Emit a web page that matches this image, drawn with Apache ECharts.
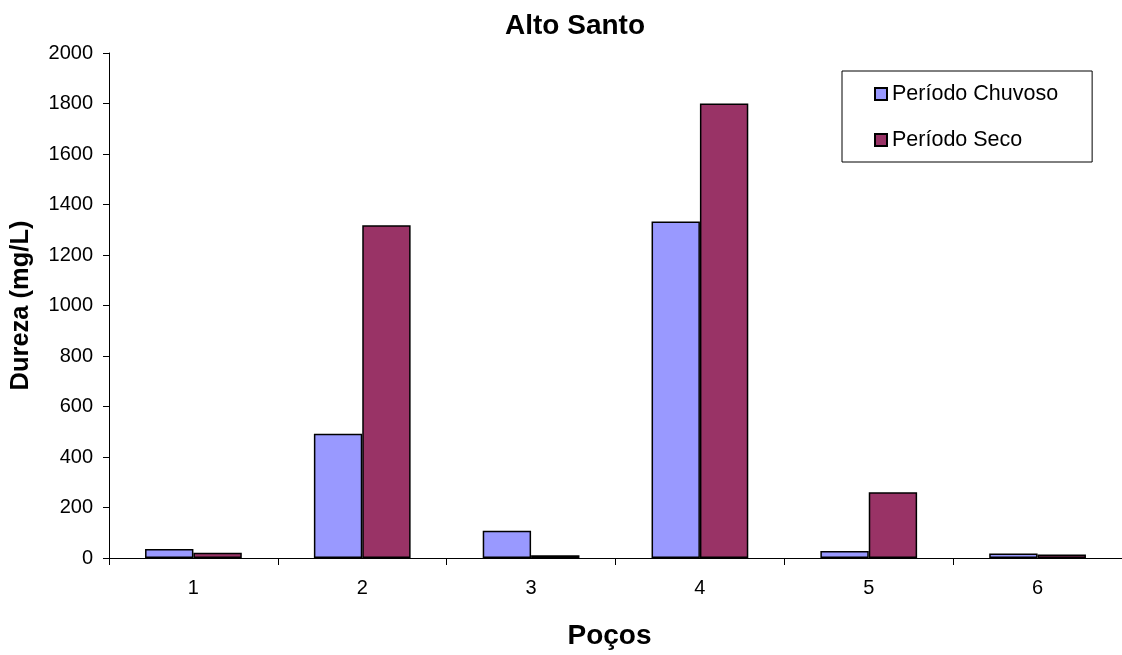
<!DOCTYPE html>
<html>
<head>
<meta charset="utf-8">
<script src="https://cdn.jsdelivr.net/npm/echarts@6/dist/echarts.min.js"></script>
<style>
html,body{margin:0;padding:0;background:#fff;}
#c{width:1122px;height:655px;}
</style>
</head>
<body>
<div id="c"></div>
<script>
const categories = ['1', '2', '3', '4', '5', '6'];
const chuvoso = [36, 492, 108, 1333, 28, 18];
const seco = [21, 1318, 11, 1800, 260, 14];
const yTicks = { min: 0, max: 2000, interval: 200 };

const FONT = '"Liberation Sans", Arial, sans-serif';
const chart = echarts.init(document.getElementById('c'), null, { renderer: 'canvas' });
chart.setOption({
  backgroundColor: '#ffffff',
  animation: false,
  textStyle: { fontFamily: FONT, color: '#000' },
  title: {
    text: 'Alto Santo',
    left: 505,
    top: 12,
    padding: 0,
    textStyle: { fontFamily: FONT, fontWeight: 'bold', fontSize: 28, color: '#000' }
  },
  legend: {
    orient: 'vertical',
    left: 842,
    top: 71,
    padding: [11, 34, 10, 32],
    itemWidth: 12,
    itemHeight: 12,
    itemGap: 22,
    icon: 'rect',
    borderColor: '#000',
    borderWidth: 1,
    textStyle: { fontFamily: FONT, fontSize: 21.5, color: '#000', lineHeight: 24 },
    data: ['Período Chuvoso', 'Período Seco']
  },
  grid: { left: 106, top: 53, width: 1020, height: 521, containLabel: false },
  xAxis: {
    type: 'category',
    data: categories,
    name: 'Poços',
    nameLocation: 'middle',
    nameGap: 64,
    nameTextStyle: { fontFamily: FONT, fontWeight: 'bold', fontSize: 28, color: '#000', padding: [0, 12, 0, 0] },
    axisLine: { lineStyle: { color: '#000', width: 1 } },
    axisTick: { show: true, length: 7, lineStyle: { color: '#000' } },
    axisLabel: { fontFamily: FONT, fontSize: 20, color: '#000', margin: 20 },
    splitLine: { show: false }
  },
  yAxis: {
    type: 'value',
    min: yTicks.min,
    max: yTicks.max,
    interval: yTicks.interval,
    name: 'Dureza (mg/L)',
    nameLocation: 'middle',
    nameGap: 75,
    nameTextStyle: { fontFamily: FONT, fontWeight: 'bold', fontSize: 25.5, color: '#000' },
    axisLine: { show: true, lineStyle: { color: '#000', width: 1 } },
    axisTick: { show: true, length: 6, lineStyle: { color: '#000' } },
    axisLabel: { fontFamily: FONT, fontSize: 20, color: '#000', margin: 16, formatter: function (v) { return String(v); } },
    splitLine: { show: false }
  },
  series: [
    {
      name: 'Período Chuvoso',
      type: 'bar',
      data: chuvoso,
      barGap: '0%',
      barCategoryGap: '42.7%',
      itemStyle: { color: '#9999FF', borderColor: '#000', borderWidth: 1.5 }
    },
    {
      name: 'Período Seco',
      type: 'bar',
      data: seco,
      barGap: '0%',
      barCategoryGap: '42.7%',
      itemStyle: { color: '#993366', borderColor: '#000', borderWidth: 1.5 }
    }
  ]
});
</script>
</body>
</html>
